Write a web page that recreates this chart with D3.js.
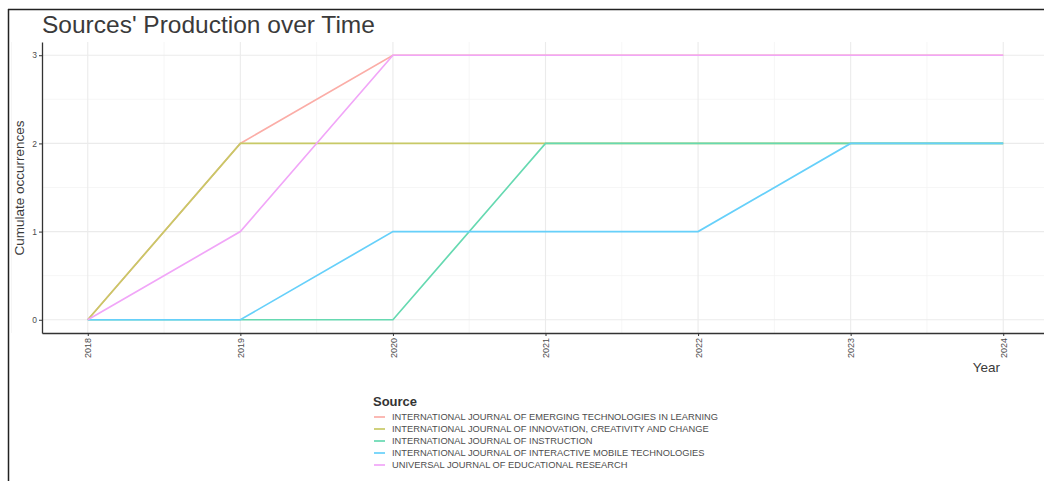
<!DOCTYPE html>
<html><head><meta charset="utf-8">
<script src="https://cdn.jsdelivr.net/npm/d3@7"></script>
<style>body{margin:0;background:#fff;} svg{display:block;font-family:"Liberation Sans",Arial,sans-serif;}</style>
</head><body>
<svg id="c" width="1044" height="481"></svg>
<script>
const years = [2018, 2019, 2020, 2021, 2022, 2023, 2024];
const sources = [
  "INTERNATIONAL JOURNAL OF EMERGING TECHNOLOGIES IN LEARNING",
  "INTERNATIONAL JOURNAL OF INNOVATION, CREATIVITY AND CHANGE",
  "INTERNATIONAL JOURNAL OF INSTRUCTION",
  "INTERNATIONAL JOURNAL OF INTERACTIVE MOBILE TECHNOLOGIES",
  "UNIVERSAL JOURNAL OF EDUCATIONAL RESEARCH"
];
const emergingTech = [0, 2, 3, 3, 3, 3, 3];
const innovation   = [0, 2, 2, 2, 2, 2, 2];
const instruction  = [0, 0, 0, 2, 2, 2, 2];
const mobileTech   = [0, 0, 1, 1, 1, 2, 2];
const universal    = [0, 1, 3, 3, 3, 3, 3];
const seriesValues = [emergingTech, innovation, instruction, mobileTech, universal];
const yTicks = [0, 1, 2, 3];
const baseColors = ["#F8766D", "#A3A500", "#00BF7D", "#00B0F6", "#E76BF3"];
const colors = baseColors.map(c => d3.interpolateRgb("#ffffff", c)(0.6));

const svg = d3.select("#c");
// frame
svg.append("line").attr("x1",8.5).attr("x2",8.5).attr("y1",9).attr("y2",481).attr("stroke","#222").attr("stroke-width",1.5);
svg.append("line").attr("x1",8).attr("x2",1044).attr("y1",9.5).attr("y2",9.5).attr("stroke","#222").attr("stroke-width",1.5);

const pLeft = 42, pTop = 42, pBottom = 333;
const x = d3.scaleLinear().domain([2017.7, 2024.3]).range([pLeft, 1049]);
const y = d3.scaleLinear().domain([-0.15, 3.15]).range([pBottom, pTop]);

const g = svg.append("g");
// grid
const minorX = d3.range(2017.5, 2024.6, 1);
const minorY = [0.5, 1.5, 2.5];
g.selectAll(".mx").data(minorX).join("line").attr("x1",d=>x(d)).attr("x2",d=>x(d)).attr("y1",pTop).attr("y2",pBottom).attr("stroke","#f4f4f4").attr("stroke-width",0.8);
g.selectAll(".my").data(minorY).join("line").attr("x1",pLeft).attr("x2",1049).attr("y1",d=>y(d)).attr("y2",d=>y(d)).attr("stroke","#f4f4f4").attr("stroke-width",0.8);
g.selectAll(".gx").data(years).join("line").attr("x1",d=>x(d)).attr("x2",d=>x(d)).attr("y1",pTop).attr("y2",pBottom).attr("stroke","#ebebeb").attr("stroke-width",1.1);
g.selectAll(".gy").data(yTicks).join("line").attr("x1",pLeft).attr("x2",1049).attr("y1",d=>y(d)).attr("y2",d=>y(d)).attr("stroke","#ebebeb").attr("stroke-width",1.1);

// lines
const line = d3.line().x((d,i)=>x(years[i])).y(d=>y(d));
seriesValues.forEach((vals, k) => {
  g.append("path").datum(vals).attr("d", line).attr("fill","none")
    .attr("stroke", colors[k]).attr("stroke-width",1.7);
});

// axes
const xAxis = svg.append("g").attr("transform",`translate(0,${pBottom})`)
  .call(d3.axisBottom(x).tickValues(years).tickFormat(d3.format("d")).tickSize(3).tickSizeOuter(0));
xAxis.select(".domain").attr("stroke","#333").attr("stroke-width",1.3);
xAxis.selectAll(".tick line").attr("stroke","#333");
xAxis.selectAll(".tick text").attr("fill","#4d4d4d").attr("font-size",9)
  .attr("transform","rotate(-90)").attr("text-anchor","end").attr("x",-5).attr("y",0).attr("dy","0.35em");

const yAxis = svg.append("g").attr("transform",`translate(${pLeft},0)`)
  .call(d3.axisLeft(y).tickValues(yTicks).tickFormat(d3.format("d")).tickSize(3).tickSizeOuter(0));
yAxis.select(".domain").attr("stroke","#333").attr("stroke-width",1.3);
yAxis.selectAll(".tick line").attr("stroke","#333");
yAxis.selectAll(".tick text").attr("fill","#4d4d4d").attr("font-size",8.5).attr("x",-5);

// titles
svg.append("text").attr("x",42).attr("y",33).attr("font-size",24.5).attr("fill","#3a3a3a").text("Sources' Production over Time");
svg.append("text").attr("transform","translate(24,188) rotate(-90)").attr("text-anchor","middle").attr("font-size",13.5).attr("fill","#3a3a3a").text("Cumulate occurrences");
svg.append("text").attr("x",1000).attr("y",372).attr("text-anchor","end").attr("font-size",13.5).attr("fill","#3a3a3a").text("Year");

// legend
const lg = svg.append("g").attr("transform","translate(373,0)");
lg.append("text").attr("x",0).attr("y",406).attr("font-size",13).attr("font-weight","bold").attr("fill","#333").text("Source");
sources.forEach((s,k) => {
  const yy = 417 + k*12;
  lg.append("line").attr("x1",1).attr("x2",12).attr("y1",yy).attr("y2",yy).attr("stroke",colors[k]).attr("stroke-width",1.7);
  lg.append("text").attr("x",19).attr("y",yy).attr("dy","0.35em").attr("font-size",9.3).attr("fill","#4d4d4d").text(s);
});
</script>
</body></html>
